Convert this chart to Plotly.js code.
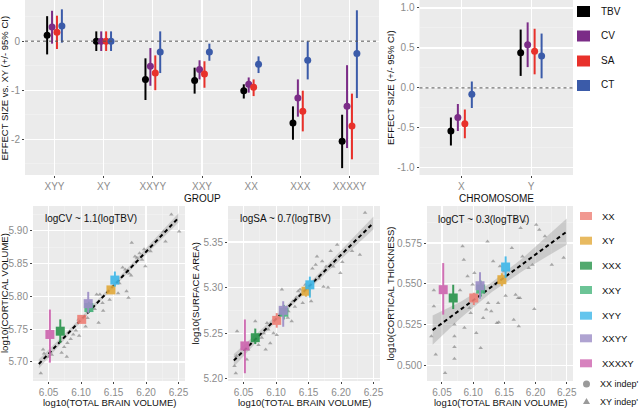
<!DOCTYPE html>
<html lang="en">
<head>
<meta charset="UTF-8">
<title>Sex chromosome aneuploidy effect sizes</title>
<script src="https://cdn.plot.ly/plotly-3.0.1.min.js"></script>
<style>
  body { margin: 0; background: #fff; }
  #chart { width: 640px; height: 410px; }
</style>
</head>
<body>
<div id="chart"></div>
<script>
// ---- top-left: effect size vs XY per group ----
const groups = ['XYY', 'XY', 'XXYY', 'XXY', 'XX', 'XXX', 'XXXXY'];
const measures = ['TBV', 'CV', 'SA', 'CT'];
const measureColors = ['#000000', '#7B2C87', '#E8312B', '#3B5BA9'];

const grpEst = [
  [0.12, 0, -0.78, -0.80, -1.01, -1.67, -2.04],   // TBV
  [0.29, 0, -0.51, -0.58, -0.88, -1.16, -1.33],   // CV
  [0.18, 0, -0.65, -0.67, -0.94, -1.43, -1.73],   // SA
  [0.31, 0, -0.22, -0.22, -0.47, -0.39, -0.25]    // CT
];
const grpLo = [
  [-0.27, -0.2, -1.20, -1.07, -1.17, -2.01, -2.59],
  [-0.05, -0.2, -0.91, -0.78, -1.05, -1.54, -2.18],
  [-0.16, -0.2, -1.00, -0.95, -1.12, -1.84, -2.41],
  [-0.03, -0.2, -0.65, -0.40, -0.65, -0.78, -1.16]
];
const grpHi = [
  [0.51, 0.2, -0.35, -0.54, -0.88, -1.33, -1.50],
  [0.62, 0.2, -0.14, -0.39, -0.74, -0.78, -0.49],
  [0.52, 0.2, -0.29, -0.41, -0.78, -1.01, -1.07],
  [0.65, 0.2, 0.20, -0.05, -0.31, 0.00, 0.63]
];

// ---- top-right: effect of X / Y chromosome count ----
const chroms = ['X', 'Y'];
const chrEst = [[-0.54, 0.44], [-0.37, 0.54], [-0.45, 0.46], [-0.08, 0.40]];
const chrLo = [[-0.72, 0.15], [-0.54, 0.26], [-0.63, 0.17], [-0.25, 0.12]];
const chrHi = [[-0.37, 0.73], [-0.20, 0.82], [-0.27, 0.74], [0.08, 0.68]];

// ---- bottom: allometry scatter ----
const karyos = ['XX', 'XY', 'XXX', 'XXY', 'XYY', 'XXYY', 'XXXXY'];
const karyoColors = ['#EE7F76', '#E2A93A', '#27934A', '#47B57C', '#3DB6E8', '#9B8CC6', '#CD63AE'];
const meanTBV = [6.101, 6.146, 6.068, 6.112, 6.152, 6.111, 6.052];
const tbvLo = [6.098, 6.143, 6.065, 6.109, 6.149, 6.106, 6.049];
const tbvHi = [6.104, 6.149, 6.071, 6.115, 6.155, 6.116, 6.055];

const cvMean = [5.765, 5.810, 5.747, 5.783, 5.825, 5.789, 5.742];
const cvLo = [5.760, 5.804, 5.729, 5.775, 5.815, 5.775, 5.699];
const cvHi = [5.770, 5.816, 5.765, 5.792, 5.838, 5.807, 5.780];

const saMean = [5.264, 5.296, 5.245, 5.273, 5.303, 5.275, 5.236];
const saLo = [5.256, 5.290, 5.238, 5.265, 5.289, 5.257, 5.206];
const saHi = [5.272, 5.302, 5.255, 5.281, 5.312, 5.285, 5.265];

const ctMean = [0.5413, 0.5525, 0.5413, 0.5468, 0.5603, 0.5488, 0.5464];
const ctLo = [0.5370, 0.5485, 0.5345, 0.5420, 0.5536, 0.5408, 0.5311];
const ctHi = [0.5445, 0.5565, 0.5494, 0.5520, 0.5668, 0.5571, 0.5627];

// individual subjects
const cvPtX = [6.038, 6.0415, 6.043, 6.050, 6.055, 6.070, 6.074, 6.079, 6.084, 6.088, 6.097, 6.096,
  6.107, 6.110, 6.116, 6.121, 6.124, 6.129, 6.133, 6.127, 6.134, 6.141, 6.144, 6.157, 6.159, 6.164,
  6.168, 6.171, 6.174, 6.177, 6.170, 6.173, 6.178, 6.183, 6.186, 6.190, 6.194, 6.197, 6.199, 6.207,
  6.227, 6.230, 6.239, 6.251, 6.078, 6.092];
const cvPtY = [5.683, 5.719, 5.713, 5.708, 5.711, 5.714, 5.723, 5.729, 5.735, 5.742, 5.740, 5.765,
  5.754, 5.767, 5.778, 5.781, 5.803, 5.803, 5.790, 5.760, 5.778, 5.807, 5.795, 5.805, 5.820, 5.844,
  5.841, 5.839, 5.835, 5.832, 5.808, 5.798, 5.882, 5.861, 5.859, 5.866, 5.856, 5.872, 5.846, 5.869,
  5.899, 5.884, 5.925, 5.899, 5.708, 5.748];

const saPtX = [6.036, 6.038, 6.040, 6.039, 6.055, 6.057, 6.068, 6.073, 6.078, 6.081, 6.084, 6.086,
  6.088, 6.091, 6.096, 6.101, 6.104, 6.109, 6.119, 6.124, 6.126, 6.129, 6.131, 6.134, 6.137, 6.141,
  6.145, 6.154, 6.156, 6.161, 6.163, 6.166, 6.171, 6.173, 6.177, 6.180, 6.184, 6.188, 6.194, 6.199,
  6.202, 6.217, 6.229, 6.237, 6.150, 6.118];
const saPtY = [5.214, 5.206, 5.252, 5.225, 5.221, 5.232, 5.263, 5.237, 5.245, 5.250, 5.232, 5.261,
  5.254, 5.239, 5.250, 5.248, 5.267, 5.298, 5.274, 5.263, 5.285, 5.279, 5.289, 5.296, 5.298, 5.283,
  5.303, 5.285, 5.321, 5.325, 5.334, 5.310, 5.329, 5.301, 5.323, 5.300, 5.340, 5.323, 5.347, 5.316,
  5.328, 5.340, 5.336, 5.382, 5.298, 5.267];

const ctPtX = [6.033, 6.037, 6.037, 6.040, 6.055, 6.070, 6.070, 6.070, 6.070, 6.079, 6.083, 6.085,
  6.086, 6.091, 6.094, 6.096, 6.099, 6.102, 6.105, 6.112, 6.118, 6.121, 6.123, 6.124, 6.129, 6.132,
  6.135, 6.138, 6.141, 6.140, 6.143, 6.152, 6.162, 6.165, 6.168, 6.172, 6.175, 6.173, 6.176, 6.179,
  6.182, 6.198, 6.201, 6.206, 6.215, 6.226, 6.167, 6.189, 6.195, 6.116, 6.149, 6.245];
const ctPtY = [0.5178, 0.5362, 0.5460, 0.5066, 0.4953, 0.5250, 0.5178, 0.5113, 0.5040, 0.5460, 0.5730, 0.5648,
  0.5230, 0.5546, 0.5352, 0.5321, 0.5495, 0.5566, 0.5198, 0.5107, 0.5454, 0.5342, 0.5760, 0.5382, 0.5331, 0.5638,
  0.5495, 0.5260, 0.5264, 0.5382, 0.5607, 0.5427, 0.5720, 0.5280, 0.5433, 0.5413, 0.5413, 0.5239, 0.5842, 0.5668,
  0.5883, 0.5346, 0.5862, 0.5832, 0.5791, 0.5617, 0.5893, 0.5597, 0.5617, 0.5290, 0.5576, 0.5660];

// fitted lines and their 95% bands
const fitX = [6.035, 6.25];
const cvFit = [5.697, 5.920];
const saFit = [5.220, 5.371];
const ctFit = [0.5216, 0.5820];
const bandX = [6.035, 6.08, 6.13, 6.18, 6.25];
const cvBandLo = [5.690, 5.740, 5.793, 5.844, 5.913];
const cvBandHi = [5.704, 5.748, 5.799, 5.852, 5.927];
const saBandLo = [5.213, 5.248, 5.284, 5.318, 5.364];
const saBandHi = [5.227, 5.256, 5.290, 5.326, 5.378];
const ctBandLo = [0.5126, 0.5290, 0.5450, 0.5580, 0.5740];
const ctBandHi = [0.5306, 0.5390, 0.5510, 0.5660, 0.5900];

const panelNotes = ['logCV ~ 1.1(logTBV)', 'logSA ~ 0.7(logTBV)', 'logCT ~ 0.3(logTBV)'];

// ---------------------------------------------------------------
const W = 640, H = 410;
const px = v => v / W;
const py = v => 1 - v / H;
const dodge = [-0.15, -0.05, 0.05, 0.15];
const FONT = 'Liberation Sans, Arial, sans-serif';

let traces = [];

// dot + CI traces for the two top panels
function addDodged(cats, est, lo, hi, xa, ya) {
  measures.forEach((m, k) => {
    traces.push({
      x: cats.map((c, i) => i + dodge[k]),
      y: est[k],
      xaxis: xa, yaxis: ya,
      type: 'scatter', mode: 'markers',
      marker: { color: measureColors[k], size: 7 },
      error_y: {
        type: 'data', symmetric: false,
        array: est[k].map((v, i) => hi[k][i] - v),
        arrayminus: est[k].map((v, i) => v - lo[k][i]),
        color: measureColors[k], thickness: 2, width: 0
      },
      showlegend: false, hoverinfo: 'skip'
    });
  });
}
addDodged(groups, grpEst, grpLo, grpHi, 'x', 'y');
addDodged(chroms, chrEst, chrLo, chrHi, 'x2', 'y2');

// bottom scatter panels
function addAllometry(xa, ya, ptX, ptY, fitY, bLo, bHi, mY, mLo, mHi) {
  traces.push({
    x: ptX, y: ptY, xaxis: xa, yaxis: ya, type: 'scatter', mode: 'markers',
    marker: { symbol: 'triangle-up', size: 4, color: 'rgba(110,110,110,0.55)' },
    showlegend: false, hoverinfo: 'skip'
  });
  traces.push({
    x: bandX.concat(bandX.slice().reverse()),
    y: bHi.concat(bLo.slice().reverse()),
    xaxis: xa, yaxis: ya, type: 'scatter', mode: 'lines',
    fill: 'toself', fillcolor: 'rgba(150,150,150,0.38)', line: { width: 0 },
    showlegend: false, hoverinfo: 'skip'
  });
  traces.push({
    x: fitX, y: fitY, xaxis: xa, yaxis: ya, type: 'scatter', mode: 'lines',
    line: { color: '#000', width: 2, dash: '4px,3px' },
    showlegend: false, hoverinfo: 'skip'
  });
  const order = [2, 0, 3, 5, 1, 4, 6];
  order.forEach(i => {
    traces.push({
      x: [meanTBV[i]], y: [mY[i]], xaxis: xa, yaxis: ya, type: 'scatter', mode: 'markers',
      marker: { symbol: 'square', size: 9, color: karyoColors[i] },
      opacity: 0.9,
      error_y: { type: 'data', symmetric: false, array: [mHi[i] - mY[i]], arrayminus: [mY[i] - mLo[i]],
        color: karyoColors[i], thickness: 2, width: 0 },
      error_x: { type: 'data', symmetric: false, array: [tbvHi[i] - meanTBV[i]], arrayminus: [meanTBV[i] - tbvLo[i]],
        color: karyoColors[i], thickness: 2, width: 0 },
      showlegend: false, hoverinfo: 'skip'
    });
  });
}
addAllometry('x3', 'y3', cvPtX, cvPtY, cvFit, cvBandLo, cvBandHi, cvMean, cvLo, cvHi);
addAllometry('x4', 'y4', saPtX, saPtY, saFit, saBandLo, saBandHi, saMean, saLo, saHi);
addAllometry('x5', 'y5', ctPtX, ctPtY, ctFit, ctBandLo, ctBandHi, ctMean, ctLo, ctHi);

// ---------------------------------------------------------------
const tickFont = { family: FONT, size: 10, color: '#8c8c8c' };
function ax(extra) {
  return Object.assign({
    showgrid: true, gridcolor: '#FFFFFF', gridwidth: 1.1,
    zeroline: false, showline: false,
    ticks: 'outside', ticklen: 2, tickcolor: '#444', tickwidth: 1,
    tickfont: tickFont, fixedrange: true
  }, extra);
}
const minorGrid = d => ({ dtick: d, showgrid: true, gridcolor: '#F4F4F4', gridwidth: 0.6, ticks: '' });
const num = (vals, f) => vals.map(v => v.toFixed(f));

const bY0 = py(381), bY1 = py(206);
const tY0 = py(175), tY1 = 1;
const xT = [6.05, 6.10, 6.15, 6.20, 6.25];
const xRange = [6.026, 6.26];

const layout = {
  width: W, height: H,
  margin: { l: 0, r: 0, t: 0, b: 0 },
  paper_bgcolor: '#FFFFFF', plot_bgcolor: '#EBEBEB',
  font: { family: FONT, size: 11, color: '#222' },
  showlegend: false,
  xaxis: ax({ domain: [px(25), px(379)], range: [-0.6, 6.6], tickvals: groups.map((g, i) => i), ticktext: groups, anchor: 'y' }),
  yaxis: ax({ domain: [tY0, tY1], range: [-2.73, 0.84], tickvals: [-2, -1, 0], ticktext: ['-2', '-1', '0'],
    minor: minorGrid(0.5), anchor: 'x' }),
  xaxis2: ax({ domain: [px(419.5), px(573)], range: [-0.6, 1.6], tickvals: [0, 1], ticktext: chroms, anchor: 'y2' }),
  yaxis2: ax({ domain: [tY0, tY1], range: [-1.09, 1.10], tickvals: [-1, -0.5, 0, 0.5, 1],
    ticktext: ['-1.0', '-0.5', '0.0', '0.5', '1.0'], minor: minorGrid(0.25), anchor: 'x2' }),
  xaxis3: ax({ domain: [px(33), px(185)], range: xRange, tickvals: xT, ticktext: num(xT, 2), minor: minorGrid(0.025), anchor: 'y3' }),
  yaxis3: ax({ domain: [bY0, bY1], range: [5.671, 5.938], tickvals: [5.70, 5.75, 5.80, 5.85, 5.90],
    ticktext: num([5.70, 5.75, 5.80, 5.85, 5.90], 2), minor: minorGrid(0.025), anchor: 'x3' }),
  xaxis4: ax({ domain: [px(228), px(380)], range: xRange, tickvals: xT, ticktext: num(xT, 2), minor: minorGrid(0.025), anchor: 'y4' }),
  yaxis4: ax({ domain: [bY0, bY1], range: [5.1975, 5.3895], tickvals: [5.20, 5.25, 5.30, 5.35],
    ticktext: num([5.20, 5.25, 5.30, 5.35], 2), minor: minorGrid(0.025), anchor: 'x4' }),
  xaxis5: ax({ domain: [px(427), px(573)], range: xRange, tickvals: xT, ticktext: num(xT, 2), minor: minorGrid(0.025), anchor: 'y5' }),
  yaxis5: ax({ domain: [bY0, bY1], range: [0.4904, 0.5977], tickvals: [0.500, 0.525, 0.550, 0.575],
    ticktext: num([0.500, 0.525, 0.550, 0.575], 3), minor: minorGrid(0.0125), anchor: 'x5' }),
  shapes: [],
  annotations: []
};

// dashed reference lines at zero
['', '2'].forEach(s => {
  layout.shapes.push({ type: 'line', xref: 'x' + s + ' domain', yref: 'y' + s, x0: 0, x1: 1, y0: 0, y1: 0,
    line: { color: '#555', width: 1, dash: '3px,3px' } });
});

const txt = (text, x, y, opts) => Object.assign({
  text: text, x: x, y: y, xref: 'paper', yref: 'paper', showarrow: false,
  xanchor: 'center', yanchor: 'middle',
  font: { family: FONT, size: 10.5, color: '#111' }
}, opts || {});
const f = s => ({ family: FONT, size: s, color: '#111' });

// axis titles
layout.annotations.push(txt('GROUP', px(202), py(198), { font: f(10) }));
layout.annotations.push(txt('CHROMOSOME', px(496), py(198), { font: f(10) }));
layout.annotations.push(txt('EFFECT SIZE vs. XY (+/- 95% CI)', px(4.5), py(88), { textangle: -90, font: f(9.5) }));
layout.annotations.push(txt('EFFECT SIZE (+/- 95% CI)', px(391), py(88), { textangle: -90, font: f(9.5) }));
const bMid = py(293.5);
layout.annotations.push(txt('log10(CORTICAL VOLUME)', px(4.5), bMid, { textangle: -90, font: f(9.5) }));
layout.annotations.push(txt('log10(SURFACE AREA)', px(195), bMid, { textangle: -90, font: f(9.5) }));
layout.annotations.push(txt('log10(CORTICAL THICKNESS)', px(390), bMid, { textangle: -90, font: f(9.5) }));
[109, 304, 500].forEach(c => layout.annotations.push(txt('log10(TOTAL BRAIN VOLUME)', px(c), py(402), { font: f(9.5) })));

// in-panel model notes
[[43, 218], [238, 218], [436, 219]].forEach((p, i) => {
  layout.annotations.push(txt(panelNotes[i], px(p[0]), py(p[1]), { xanchor: 'left', font: f(10) }));
});

// top legend
const topRows = [11, 35.5, 60.5, 85];
measures.forEach((m, k) => {
  layout.shapes.push({ type: 'rect', xref: 'paper', yref: 'paper', x0: px(577), x1: px(590),
    y0: py(topRows[k] + 6), y1: py(topRows[k] - 5), fillcolor: measureColors[k], line: { width: 0 } });
  layout.annotations.push(txt(m, px(599), py(topRows[k]), { xanchor: 'left', font: f(10) }));
});

// bottom legend
const botRows = [216, 240.7, 265.7, 290, 315.7, 338.3, 363.3];
karyos.forEach((k, i) => {
  layout.shapes.push({ type: 'rect', xref: 'paper', yref: 'paper', x0: px(580), x1: px(592),
    y0: py(botRows[i] + 4), y1: py(botRows[i] - 4), fillcolor: karyoColors[i], opacity: 0.8, line: { width: 0 } });
  layout.annotations.push(txt(k, px(600), py(botRows[i]), { xanchor: 'left', font: f(9.5) }));
});
layout.shapes.push({ type: 'circle', xref: 'paper', yref: 'paper', x0: px(583), x1: px(590), y0: py(387.5), y1: py(380.5),
  fillcolor: '#9a9a9a', line: { width: 0 } });
layout.shapes.push({ type: 'path', xref: 'paper', yref: 'paper',
  path: 'M ' + px(583) + ' ' + py(404) + ' L ' + px(590) + ' ' + py(404) + ' L ' + px(586.5) + ' ' + py(398) + ' Z',
  fillcolor: '#9a9a9a', line: { width: 0 } });
layout.annotations.push(txt("XX indep'", px(598), py(384), { xanchor: 'left', font: f(9) }));
layout.annotations.push(txt("XY indep'", px(598), py(401.5), { xanchor: 'left', font: f(9) }));

Plotly.newPlot('chart', traces, layout, { staticPlot: true, displayModeBar: false });
</script>
</body>
</html>
